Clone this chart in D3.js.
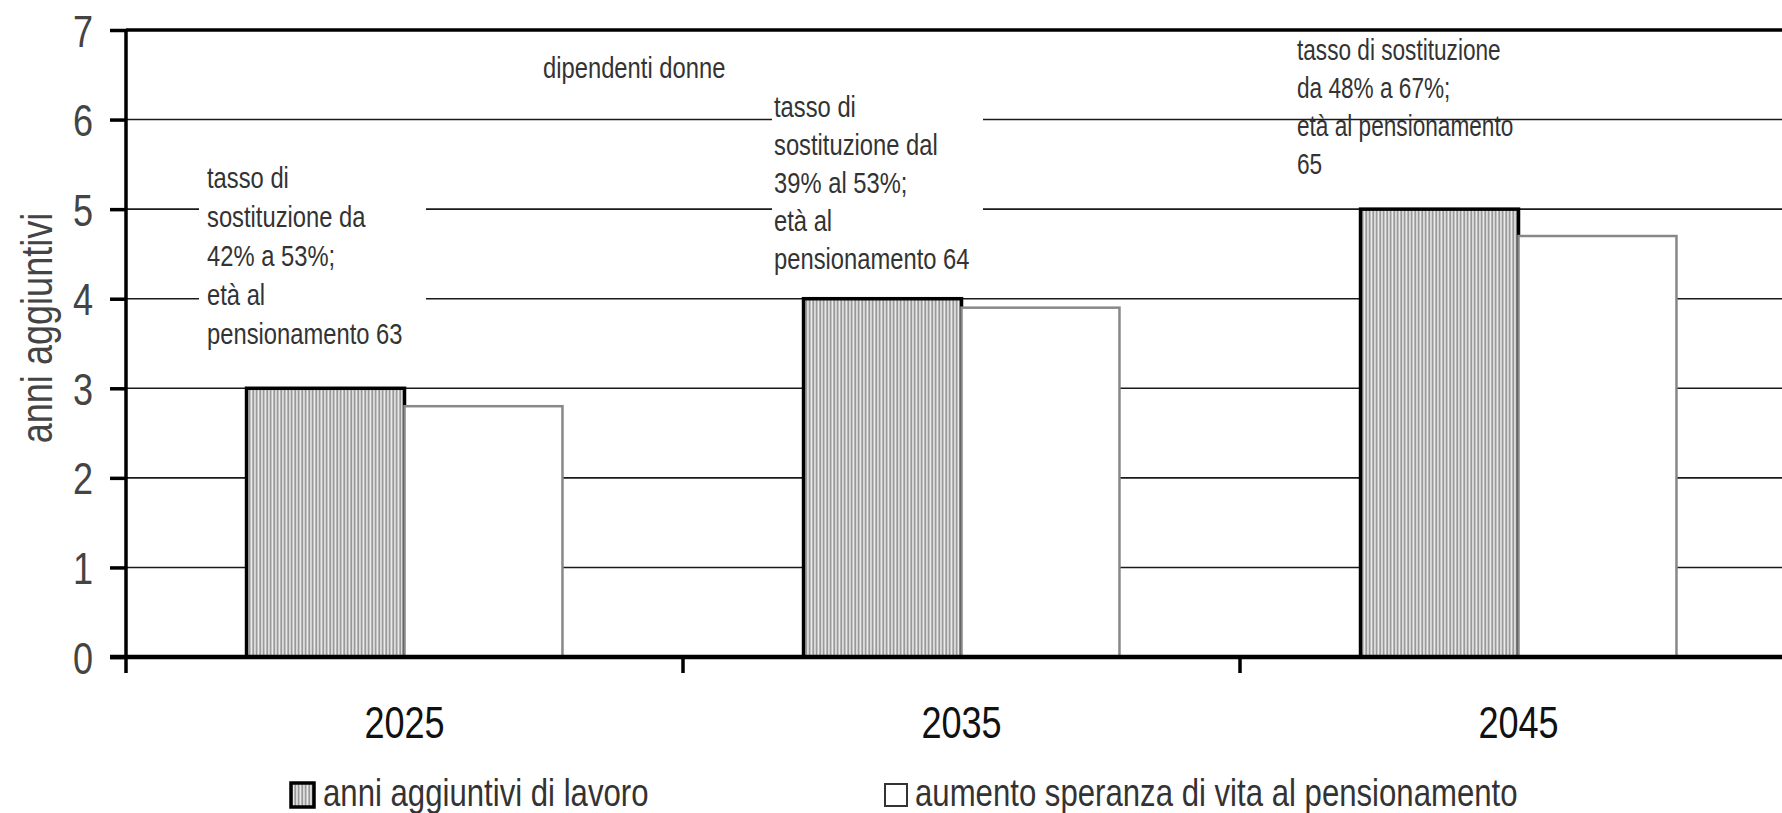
<!DOCTYPE html>
<html>
<head>
<meta charset="utf-8">
<script src="https://cdn.jsdelivr.net/npm/d3@7"></script>
<style>
  html, body { margin: 0; padding: 0; background: #fff; overflow: hidden; }
  text { font-family: "Liberation Sans", Arial, sans-serif; }
</style>
</head>
<body>
<div id="chart"></div>
<script>
// data
var years = ["2025", "2035", "2045"];
var series = ["anni aggiuntivi di lavoro", "aumento speranza di vita al pensionamento"];
var anniLavoro = [3, 4, 5];
var speranzaVita = [2.8, 3.9, 4.7];
var yTickValues = [0, 1, 2, 3, 4, 5, 6, 7];
var yTitle = "anni aggiuntivi";
var subTitle = "dipendenti donne";
var note2025 = ["tasso di", "sostituzione da", "42% a 53%;", "età al", "pensionamento 63"];
var note2035 = ["tasso di", "sostituzione dal", "39% al 53%;", "età al", "pensionamento 64"];
var note2045 = ["tasso di sostituzione", "da 48% a 67%;", "età al pensionamento", "65"];

var W = 1782, H = 813;
var plotLeft = 126, plotRight = 1797, plotTop = 30, plotBottom = 657;
var narrow = 0.82;

var svg = d3.select("#chart").append("svg")
    .attr("width", W)
    .attr("height", H);

var defs = svg.append("defs");
var pat = defs.append("pattern")
    .attr("id", "stripes")
    .attr("patternUnits", "userSpaceOnUse")
    .attr("width", 3.5)
    .attr("height", 10);
pat.append("rect").attr("width", 3.5).attr("height", 10).attr("fill", "#ececec");
pat.append("line")
    .attr("x1", 1.2).attr("x2", 1.2).attr("y1", 0).attr("y2", 10)
    .attr("stroke", "#8a8a8a").attr("stroke-width", 1.6);

var x = d3.scaleBand().domain(years).range([plotLeft, plotRight]).padding(0);
var xSub = d3.scaleBand().domain(series).range([0, x.bandwidth()]).paddingOuter(0.763);
var y = d3.scaleLinear().domain([0, 7]).range([plotBottom, plotTop]);

// helper for condensed text
function ctext(g, tx, ty, str, size, anchor, fill, rot, sx) {
    var t = g.append("text")
        .attr("transform", "translate(" + tx + "," + ty + ")" + (rot ? " rotate(" + rot + ")" : "") + " scale(" + (sx || narrow) + ",1)")
        .attr("font-size", size)
        .attr("text-anchor", anchor || "start")
        .attr("fill", fill || "#333")
        .text(str);
    return t;
}

// gridlines
svg.append("g").selectAll("line")
    .data(yTickValues.filter(function(d) { return d > 0 && d < 7; }))
    .join("line")
    .attr("x1", plotLeft).attr("x2", W)
    .attr("y1", function(d) { return y(d); })
    .attr("y2", function(d) { return y(d); })
    .attr("stroke", "#1a1a1a")
    .attr("stroke-width", 1.6);

// top border at 7
svg.append("line")
    .attr("x1", plotLeft).attr("x2", W)
    .attr("y1", y(7)).attr("y2", y(7))
    .attr("stroke", "#000").attr("stroke-width", 3.5);

// white boxes behind the annotations
svg.append("rect").attr("x", 199).attr("y", 150).attr("width", 227).attr("height", 210).attr("fill", "#fff");
svg.append("rect").attr("x", 772).attr("y", 90).attr("width", 211).attr("height", 190).attr("fill", "#fff");

var notes = svg.append("g");
ctext(notes, 543, 78, subTitle, 29, "start", "#333");
note2025.forEach(function(s, i) { ctext(notes, 207, 188 + i * 39, s, 29, "start", "#333"); });
note2035.forEach(function(s, i) { ctext(notes, 774, 117 + i * 38, s, 29, "start", "#333"); });
note2045.forEach(function(s, i) { ctext(notes, 1297, 60 + i * 38, s, 29, "start", "#333", null, 0.78); });

// bars
var bars = svg.append("g");
bars.selectAll("rect.lavoro")
    .data(anniLavoro)
    .join("rect")
    .attr("class", "lavoro")
    .attr("x", function(d, i) { return x(years[i]) + xSub(series[0]); })
    .attr("y", function(d) { return y(d); })
    .attr("width", xSub.bandwidth())
    .attr("height", function(d) { return y(0) - y(d); })
    .attr("fill", "url(#stripes)")
    .attr("stroke", "#000")
    .attr("stroke-width", 3.5);

bars.selectAll("rect.speranza")
    .data(speranzaVita)
    .join("rect")
    .attr("class", "speranza")
    .attr("x", function(d, i) { return x(years[i]) + xSub(series[1]); })
    .attr("y", function(d) { return y(d); })
    .attr("width", xSub.bandwidth())
    .attr("height", function(d) { return y(0) - y(d); })
    .attr("fill", "#fff")
    .attr("stroke", "#888")
    .attr("stroke-width", 2.5);

// y axis
var yAxis = svg.append("g")
    .attr("transform", "translate(" + plotLeft + ",0)")
    .call(d3.axisLeft(y).tickValues(yTickValues).tickSize(16).tickFormat(""));
yAxis.select(".domain").attr("stroke", "#000").attr("stroke-width", 3.5).attr("d", "M0," + (plotTop - 1) + "V" + plotBottom);
yAxis.selectAll(".tick line").attr("stroke", "#000").attr("stroke-width", 3.5);
yAxis.selectAll(".tick").each(function(d) {
    ctext(d3.select(this), -33, 16, d3.format("d")(d), 44, "end", "#444");
});

// x axis
var xAxis = svg.append("g")
    .attr("transform", "translate(0," + plotBottom + ")")
    .call(d3.axisBottom(x).tickSize(0).tickFormat(""));
xAxis.select(".domain").attr("stroke", "#000").attr("stroke-width", 4.5).attr("d", "M" + (plotLeft - 16) + ",0H" + W);
var xTickPos = years.map(function(d) { return x(d); }).concat([plotRight]);
xAxis.selectAll("line.xt")
    .data(xTickPos)
    .join("line")
    .attr("class", "xt")
    .attr("x1", function(d) { return d; }).attr("x2", function(d) { return d; })
    .attr("y1", 0).attr("y2", 16)
    .attr("stroke", "#000").attr("stroke-width", 3.5);
years.forEach(function(yr) {
    ctext(xAxis, x(yr) + x.bandwidth() / 2, 81, yr, 44, "middle", "#111");
});

// y title
ctext(svg, 52, 328, yTitle, 44, "middle", "#444", -90);

// legend
var legend = svg.append("g");
legend.append("rect")
    .attr("x", 291).attr("y", 783).attr("width", 23).attr("height", 24)
    .attr("fill", "url(#stripes)").attr("stroke", "#000").attr("stroke-width", 3.5);
ctext(legend, 323, 806, series[0], 38, "start", "#333");
legend.append("rect")
    .attr("x", 885).attr("y", 784).attr("width", 22).attr("height", 22)
    .attr("fill", "#fff").attr("stroke", "#333").attr("stroke-width", 2);
ctext(legend, 915, 806, series[1], 38, "start", "#333");
</script>
</body>
</html>
